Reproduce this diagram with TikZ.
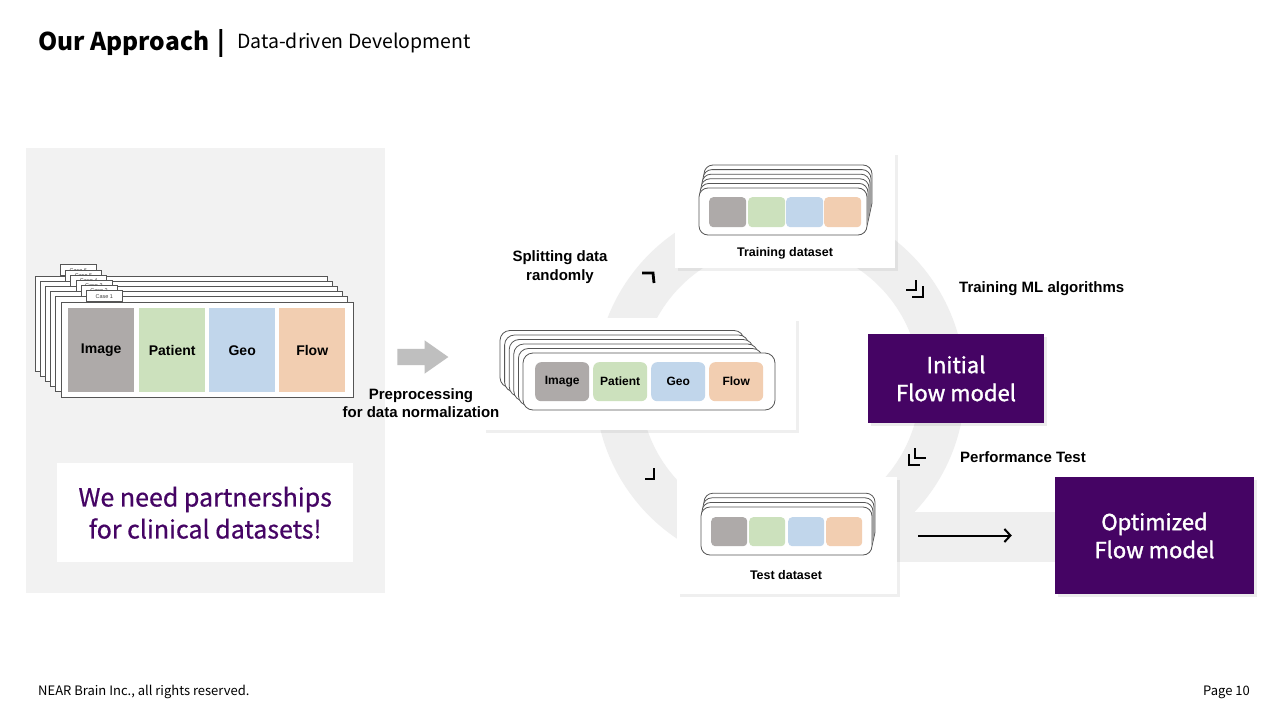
\documentclass[tikz,border=0pt]{standalone}
\usepackage{fontspec}
\setmainfont{Noto Sans CJK KR}
\newfontfamily\semifont[FakeBold=1.5]{Noto Sans CJK KR}
\newfontfamily\midfont[FakeBold=0.6]{Noto Sans CJK KR}
\newfontfamily\lblfont{Liberation Sans}
\usetikzlibrary{shapes.arrows,shadows,positioning,arrows.meta}

\definecolor{panelgray}{HTML}{F2F2F2}
\definecolor{ringgray}{HTML}{EFEFEF}
\definecolor{arrowgray}{HTML}{BFBFBF}
\definecolor{imgcol}{HTML}{AEAAA9}
\definecolor{patcol}{HTML}{CCE1BD}
\definecolor{geocol}{HTML}{C1D6EB}
\definecolor{flowcol}{HTML}{F2CEB1}
\definecolor{deeppurple}{HTML}{450464}
\definecolor{cardline}{HTML}{555555}

\tikzset{
	cardbox/.style = {draw=cardline, line width=0.8pt, fill=white},
	tabbox/.style = {draw=cardline, line width=0.6pt, fill=white, inner sep=0pt, minimum width=36pt, minimum height=11pt, anchor=south west, font=\lblfont\fontsize{5.5}{6}\selectfont, text=black!75},
	lcell/.style = {inner sep=0pt, minimum width=66pt, minimum height=84pt, anchor=north west, font=\lblfont\bfseries\fontsize{14}{16}\selectfont},
	ccell/.style = {inner sep=0pt, minimum width=54pt, minimum height=39pt, rounded corners=6pt, anchor=north west, font=\lblfont\bfseries\fontsize{12}{14}\selectfont},
	scell/.style = {inner sep=0pt, minimum width=37pt, minimum height=30pt, rounded corners=4pt, anchor=north west},
	panel/.style = {fill=white, inner sep=0pt, anchor=north west, drop shadow={shadow xshift=3pt, shadow yshift=-3pt, opacity=0.12}},
	modelbox/.style = {fill=deeppurple, text=white, align=center, inner sep=0pt, font=\semifont\fontsize{22}{28}\selectfont, drop shadow={shadow xshift=3pt, shadow yshift=-3pt, opacity=0.15}},
	setlabel/.style = {font=\lblfont\bfseries\fontsize{12.5}{15}\selectfont},
	steplabel/.style = {font=\lblfont\bfseries\fontsize{15}{18.5}\selectfont, align=center},
	chevron/.style = {line width=2.8pt, black}
}

\begin{document}
\begin{tikzpicture}[x=1pt,y=-1pt]
	\useasboundingbox (0,0) rectangle (1280,720);
	\fill[white] (0,0) rectangle (1280,720);

	% title
	\node[anchor=base west, inner sep=0pt, font=\bfseries\fontsize{24.5}{28}\selectfont] (title) at (38,50) {Our Approach};
	\node[anchor=base west, inner sep=0pt, font=\bfseries\fontsize{24.5}{28}\selectfont] (titlebar) at ([xshift=8pt]title.base east) {|};
	\node[anchor=base west, inner sep=0pt, font=\fontsize{19.5}{24}\selectfont] (subtitle) at (237,48) {Data-driven Development};

	% left panel with the cases
	\fill[panelgray] (26,148) rectangle (385,593);
	\foreach \i in {5,4,...,0}{
		\pgfmathtruncatemacro\casenum{\i+1}
		\begin{scope}[shift={(-5.2*\i,-5.2*\i)}]
			\draw[cardbox] (61,302) rectangle (353,397);
			\node[tabbox] (tab\casenum) at (86,302) {Case \casenum};
		\end{scope}
	}
	\node[lcell, fill=imgcol] (limg) at (68,308) {Image};
	\node[lcell, fill=patcol] (lpat) at (139,308) {Patient};
	\node[lcell, fill=geocol] (lgeo) at (209,308) {Geo};
	\node[lcell, fill=flowcol] (lflow) at (279,308) {Flow};
	\node[fill=white, minimum width=296pt, minimum height=99pt, anchor=north west, inner sep=0pt, text=deeppurple, align=center, font=\midfont\fontsize{25}{32}\selectfont] (partner) at (57,463) {We need partnerships\\for clinical datasets!};

	% cycle
	\fill[ringgray, even odd rule] (780,385) circle[radius=185pt] (780,385) circle[radius=140pt];
	\fill[ringgray] (880,512) rectangle (1060,562);

	% training dataset
	\node[panel, minimum width=220pt, minimum height=116pt] (trainbox) at (675,152) {};
	\foreach \k in {5,4,...,1}
		\draw[cardbox, rounded corners=9pt] ({699+\k},{188-4.6*\k}) rectangle ({867+\k},{235-4.6*\k});
	\draw[cardbox, rounded corners=9pt] (699,188) rectangle (867,235);
	\node[scell, fill=imgcol] (timg) at (709,197) {};
	\node[scell, fill=patcol] (tpat) at (748,197) {};
	\node[scell, fill=geocol] (tgeo) at (786,197) {};
	\node[scell, fill=flowcol] (tflow) at (824,197) {};
	\node[setlabel] (trainlbl) at (785,253) {Training dataset};

	% preprocessed dataset
	\node[panel, minimum width=313pt, minimum height=112pt] (prepbox) at (483,318) {};
	\foreach \k in {5,4,...,1}
		\draw[cardbox, rounded corners=10pt] ({523-4.6*\k},{353-4.5*\k}) rectangle ({767-4.6*\k},{410-4.5*\k});
	\draw[cardbox, rounded corners=10pt] (523,353) rectangle (775,410);
	\node[ccell, fill=imgcol] (cimg) at (535,362) {Image};
	\node[ccell, fill=patcol] (cpat) at (593,362) {Patient};
	\node[ccell, fill=geocol] (cgeo) at (651,362) {Geo};
	\node[ccell, fill=flowcol] (cflow) at (709,362) {Flow};

	% preprocessing arrow
	\node[single arrow, fill=arrowgray, inner sep=8pt, single arrow head extend=8.5pt, single arrow tip angle=70, minimum height=51pt] (preparrow) at (417,357) {};
	\node[steplabel] (preplbl) at (421,403) {Preprocessing\\for data normalization};

	% test dataset
	\node[panel, minimum width=220pt, minimum height=117pt] (testbox) at (677,477) {};
	\foreach \k in {3,2,1}
		\draw[cardbox, rounded corners=9pt] ({701+\k},{507-4.6*\k}) rectangle ({872+\k},{555-4.6*\k});
	\draw[cardbox, rounded corners=9pt] (701,507) rectangle (872,555);
	\node[scell, fill=imgcol, minimum width=36pt, minimum height=29pt] (simg) at (711,517) {};
	\node[scell, fill=patcol, minimum width=36pt, minimum height=29pt] (spat) at (749,517) {};
	\node[scell, fill=geocol, minimum width=36pt, minimum height=29pt] (sgeo) at (788,517) {};
	\node[scell, fill=flowcol, minimum width=36pt, minimum height=29pt] (sflow) at (826,517) {};
	\node[setlabel] (testlbl) at (786,575) {Test dataset};

	% steps
	\node[steplabel] (splitlbl) at (560,267) {Splitting data\\randomly};
	\node[steplabel, anchor=west, inner sep=0pt] (trainml) at (959,289) {Training ML algorithms};
	\node[steplabel, anchor=west, inner sep=0pt] (perftest) at (960,457) {Performance Test};
	\draw[chevron] (642,273) -- (653,273) -- (654,283);
	\draw[chevron] (906,290) -- (916,290) -- (916,280);
	\draw[chevron] (912,297) -- (923,297) -- (923,286);
	\draw[chevron] (915,448) -- (915,458) -- (926,458);
	\draw[chevron] (909,454) -- (909,465) -- (920,465);
	\draw[chevron] (645,479) -- (654,479) -- (654,468);

	% models
	\node[modelbox, minimum width=176pt, minimum height=89pt] (initbox) at (956,378.5) {Initial\\Flow model};
	\node[modelbox, minimum width=199pt, minimum height=117pt] (optbox) at (1154.5,535.5) {Optimized\\Flow model};
	\draw[-{Straight Barb[length=6pt, width=13pt]}, line width=2pt, shorten <=21pt, shorten >=43pt] (testbox.east |- optbox.west) -- (optbox.west);

	% footer
	\node[anchor=base west, inner sep=0pt, font=\fontsize{13}{15}\selectfont] (footer) at (38,695) {NEAR Brain Inc., all rights reserved.};
	\node[anchor=base east, inner sep=0pt, font=\fontsize{13}{15}\selectfont] (pagenum) at (1250,695) {Page 10};
\end{tikzpicture}
\end{document}
